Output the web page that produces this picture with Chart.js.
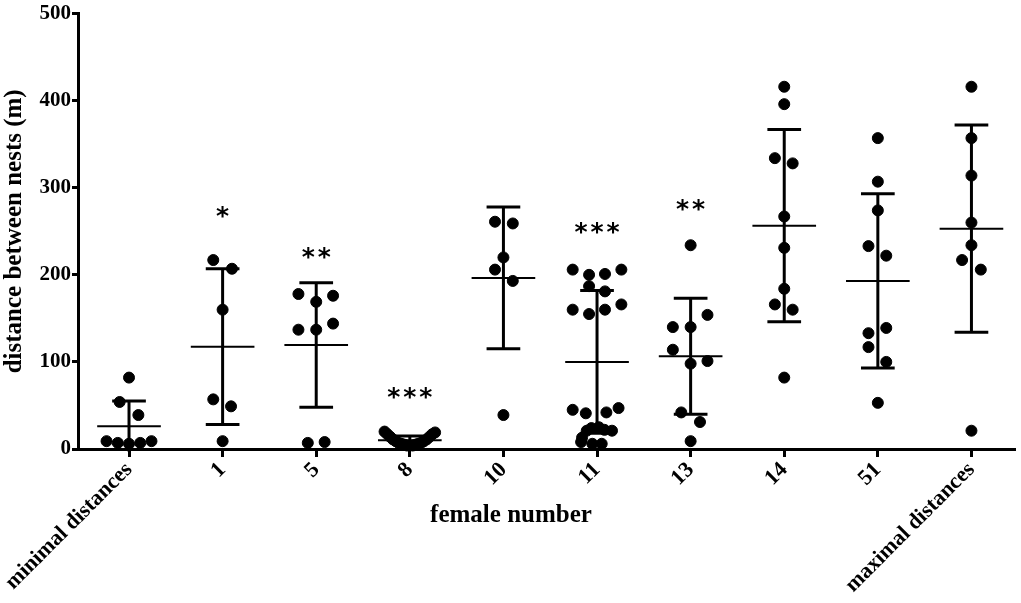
<!DOCTYPE html>
<html>
<head>
<meta charset="utf-8">
<script src="https://cdn.jsdelivr.net/npm/chart.js@4.4.0/dist/chart.umd.min.js"></script>
<style>
  html, body { margin: 0; padding: 0; background: #fff; }
  #wrap { width: 1021px; height: 603px; }
</style>
</head>
<body>
<div id="wrap"><canvas id="grafico" width="1021" height="603"></canvas></div>
<script>
// ===== dados =====
const categorias = ['minimal distances', '1', '5', '8', '10', '11', '13', '14', '51', 'maximal distances'];

const vMinimal = [82, 54, 39, 9, 7, 6, 7, 9];
const v1 = [217, 207, 160, 57, 49, 9];
const v5 = [178, 169, 176, 137, 137, 144, 7, 8];
const v8 = [20, 17, 14, 11, 9, 7, 6, 5, 4, 4, 5, 6, 7, 9, 11, 14, 17, 19];
const v10 = [261, 259, 220, 206, 193, 39];
const v11 = [206, 200, 201, 206, 187, 181, 160, 155, 160, 166, 45, 41, 42, 47, 24, 25, 22, 21, 21, 13, 8, 6, 6];
const v13 = [234, 140, 140, 154, 114, 98, 101, 42, 31, 9];
const v14 = [416, 396, 334, 328, 267, 231, 184, 166, 160, 82];
const v51 = [357, 307, 274, 233, 222, 133, 139, 117, 100, 53];
const vMaximal = [416, 357, 314, 260, 234, 217, 206, 21];

// deslocamento horizontal dos pontos (em unidades de categoria)
const jMinimal = [0, -0.1, 0.1, -0.24, -0.12, 0, 0.12, 0.24];
const j1 = [-0.1, 0.1, 0, -0.1, 0.09, 0];
const j5 = [-0.19, 0, 0.18, -0.19, 0, 0.18, -0.09, 0.09];
const j8 = [-0.27, -0.24, -0.21, -0.18, -0.15, -0.12, -0.09, -0.06, -0.03, 0.03, 0.06, 0.09, 0.12, 0.15, 0.18, 0.21, 0.24, 0.27];
const j10 = [-0.09, 0.1, 0, -0.09, 0.1, 0];
const j11 = [-0.26, -0.085, 0.085, 0.26, -0.085, 0.085, -0.26, -0.085, 0.085, 0.26, -0.26, -0.12, 0.1, 0.23, -0.06, 0.02, 0.08, 0.16, -0.11, -0.16, -0.17, -0.05, 0.05];
const j13 = [0, -0.19, 0, 0.18, -0.19, 0, 0.18, -0.1, 0.1, 0];
const j14 = [0, 0, -0.1, 0.09, 0, 0, 0, -0.1, 0.09, 0];
const j51 = [0, 0, 0, -0.1, 0.09, -0.1, 0.09, -0.1, 0.09, 0];
const jMaximal = [0, 0, 0, 0, 0, -0.1, 0.1, 0];

const medias = [26, 117.5, 119.5, 10, 196.5, 100, 106.5, 256.5, 193, 253];
const desvios = [29, 89.5, 71.5, 5, 81.5, 82, 66.5, 110.5, 100, 119];

const asteriscos = ['', '*', '**', '***', '', '***', '**', '', '', ''];
const alturaAsteriscos = [0, 269, 222, 62, 0, 251, 277, 0, 0, 0];

const yTicks = [0, 100, 200, 300, 400, 500];

// ===== montagem =====
const grupos = [vMinimal, v1, v5, v8, v10, v11, v13, v14, v51, vMaximal];
const jitters = [jMinimal, j1, j5, j8, j10, j11, j13, j14, j51, jMaximal];

const pontos = [];
grupos.forEach((vals, i) => {
    vals.forEach((v, k) => pontos.push({ x: i + jitters[i][k], y: v }));
});

const fonteSerif = "'Liberation Serif', 'Times New Roman', serif";

function segmento(a, b, largura) {
    return {
        type: 'scatter',
        data: [a, b],
        showLine: true,
        borderColor: '#000',
        borderWidth: largura,
        pointRadius: 0,
        pointHoverRadius: 0,
        borderCapStyle: 'butt',
        clip: false
    };
}

const datasets = [{
    type: 'scatter',
    data: pontos,
    backgroundColor: '#000',
    borderColor: '#000',
    pointRadius: 5.5,
    pointHoverRadius: 5.5,
    clip: false
}];

medias.forEach((m, i) => {
    const sup = m + desvios[i];
    const inf = Math.max(m - desvios[i], -3);
    datasets.push(segmento({ x: i - 0.34, y: m }, { x: i + 0.34, y: m }, 2));
    datasets.push(segmento({ x: i, y: inf }, { x: i, y: sup }, 3));
    datasets.push(segmento({ x: i - 0.18, y: sup }, { x: i + 0.18, y: sup }, 3));
    if (m - desvios[i] > 0) {
        datasets.push(segmento({ x: i - 0.18, y: inf }, { x: i + 0.18, y: inf }, 3));
    }
});

const extras = {
    id: 'extras',
    afterDraw(chart) {
        const ctx = chart.ctx;
        const xs = chart.scales.x;
        const ys = chart.scales.y;
        ctx.save();
        ctx.fillStyle = '#000';
        ctx.textAlign = 'center';
        ctx.textBaseline = 'middle';

        // asteriscos de significância
        ctx.font = "bold 25px 'DejaVu Sans', sans-serif";
        asteriscos.forEach((s, i) => {
            if (!s) return;
            const cx = xs.getPixelForValue(i);
            const cy = ys.getPixelForValue(alturaAsteriscos[i]);
            for (let k = 0; k < s.length; k++) {
                const dx = (k - (s.length - 1) / 2) * 16;
                ctx.fillText('*', cx + dx, cy + 3);
            }
        });

        // título do eixo x
        ctx.font = "bold 25px " + fonteSerif;
        ctx.fillText('female number', 511, 516);
        ctx.restore();
    }
};

new Chart(document.getElementById('grafico'), {
    type: 'scatter',
    data: { datasets: datasets },
    options: {
        responsive: false,
        animation: false,
        events: [],
        layout: { padding: { top: 4, right: 2, left: 0, bottom: 0 } },
        plugins: {
            legend: { display: false },
            tooltip: { enabled: false }
        },
        scales: {
            x: {
                type: 'linear',
                min: -0.545,
                max: 9.46,
                afterBuildTicks(scale) {
                    scale.ticks = categorias.map((c, i) => ({ value: i }));
                },
                afterFit(scale) {
                    scale.height = 154;
                },
                border: { display: true, color: '#000', width: 3 },
                grid: { drawOnChartArea: false, drawTicks: true, tickLength: 8, lineWidth: 3, color: '#000' },
                ticks: {
                    color: '#000',
                    minRotation: 45,
                    maxRotation: 45,
                    padding: 0,
                    font: { family: fonteSerif, size: 22, weight: 'bold' },
                    callback: (v) => categorias[Math.round(v)]
                }
            },
            y: {
                min: 0,
                max: 500,
                afterBuildTicks(scale) {
                    scale.ticks = yTicks.map(v => ({ value: v }));
                },
                afterFit(scale) {
                    scale.width = 78;
                },
                border: { display: true, color: '#000', width: 3 },
                grid: { drawOnChartArea: false, drawTicks: true, tickLength: 6, lineWidth: 3, color: '#000' },
                ticks: {
                    color: '#000',
                    padding: 1,
                    font: { family: fonteSerif, size: 21, weight: 'bold' }
                },
                title: {
                    display: true,
                    text: 'distance between nests (m)',
                    color: '#000',
                    padding: { top: 0, bottom: 0 },
                    font: { family: fonteSerif, size: 25, weight: 'bold' }
                }
            }
        }
    },
    plugins: [extras]
});
</script>
</body>
</html>
